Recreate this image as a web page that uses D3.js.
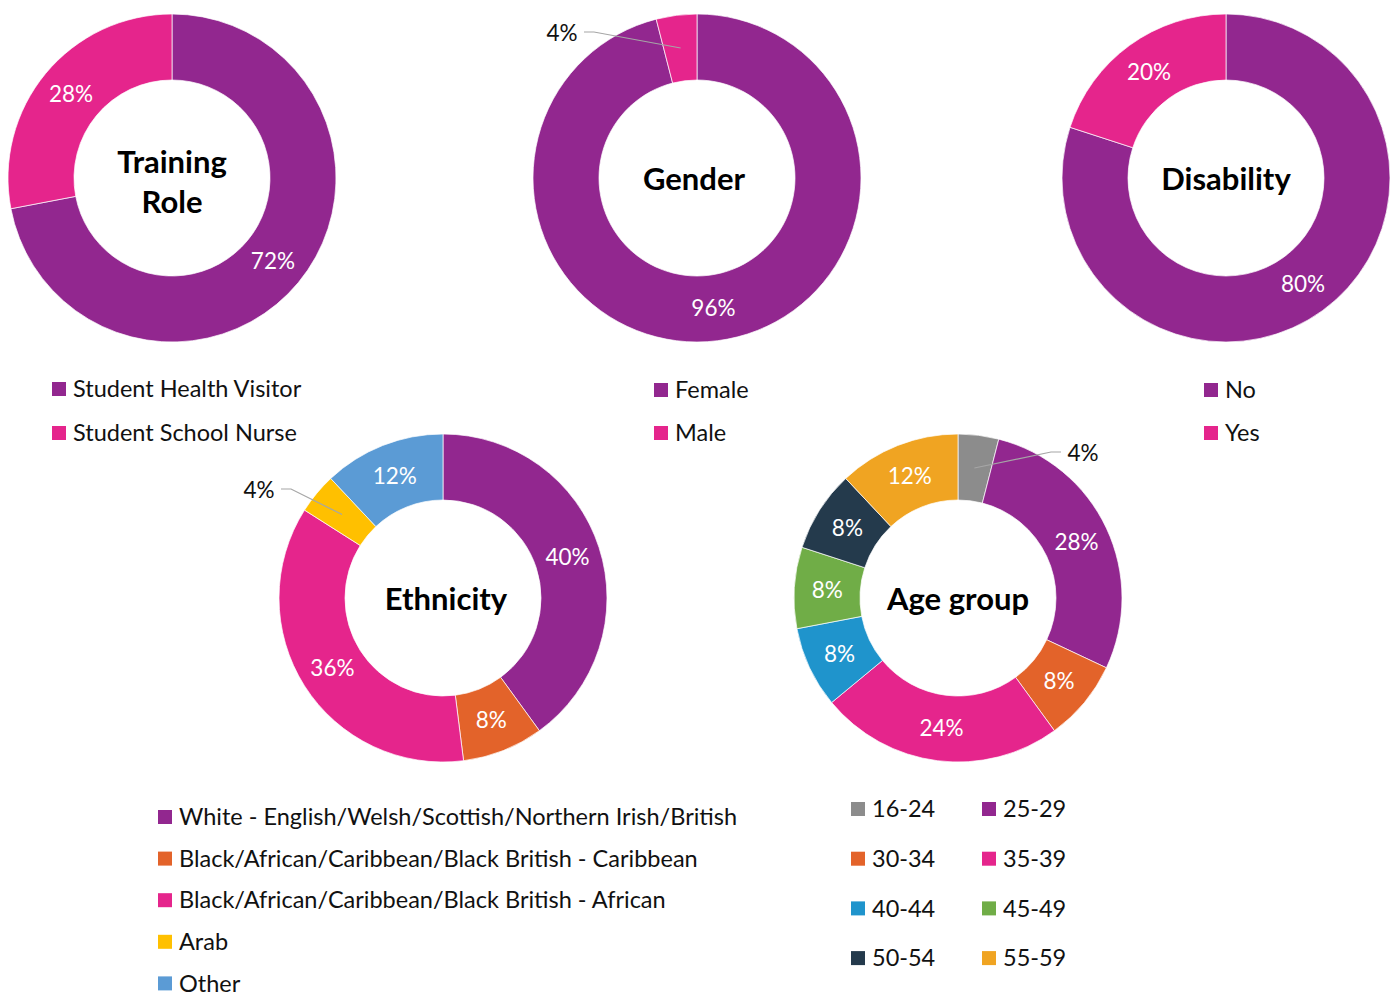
<!DOCTYPE html>
<html>
<head>
<meta charset="utf-8">
<script src="https://cdn.jsdelivr.net/npm/d3@7"></script>
<style>
  body { margin: 0; background: #fff; }
  text { font-family: Lato, "Open Sans", sans-serif; }
</style>
</head>
<body>
<div id="chart"></div>
<script>
// colours
const purple = "#92278f", pink = "#e5258c", orange = "#e3632a", yellow = "#ffc000",
    skyBlue = "#5b9bd5", grey = "#8c8c8c", blue = "#1f94cc", green = "#70ad47",
    navy = "#243a4c", amber = "#f0a422"

// data
const roleLabels = ["Student Health Visitor", "Student School Nurse"]
const roleValues = [72, 28]
const genderLabels = ["Female", "Male"]
const genderValues = [96, 4]
const disabilityLabels = ["No", "Yes"]
const disabilityValues = [80, 20]
const ethnicityLabels = ["White - English/Welsh/Scottish/Northern Irish/British",
    "Black/African/Caribbean/Black British - Caribbean",
    "Black/African/Caribbean/Black British - African", "Arab", "Other"]
const ethnicityValues = [40, 8, 36, 4, 12]
const ageLabels = ["16-24", "25-29", "30-34", "35-39", "40-44", "45-49", "50-54", "55-59"]
const ageValues = [4, 28, 8, 24, 8, 8, 8, 12]

const svg = d3.select("#chart").append("svg")
    .attr("width", 1395)
    .attr("height", 997)

const outerR = 164, innerR = 98
const labelSize = 22.5, legendSize = 23.5, titleSize = 31

// one donut with its title and labels
function donut(opts) {
    const data = opts.labels.map((l, i) => ({ label: l, value: opts.values[i], color: opts.colors[i], small: opts.outside && opts.outside[i] }))
    const pie = d3.pie().sort(null).value(d => d.value)
    const arc = d3.arc().innerRadius(innerR).outerRadius(outerR)
    const g = svg.append("g").attr("transform", `translate(${opts.cx},${opts.cy})`)
    const arcs = pie(data)

    g.selectAll("path.slice").data(arcs).enter().append("path")
        .attr("class", "slice")
        .attr("d", arc)
        .attr("fill", d => d.data.color)
        .attr("stroke", "#fff")
        .attr("stroke-width", 0.7)

    arcs.forEach(a => {
        const c = arc.centroid(a)
        if (a.data.small) {
            const o = a.data.small // label position relative to centre
            const lx = o[0], ly = o[1]
            const dir = lx < c[0] ? 1 : -1
            g.append("polyline")
                .attr("points", [[c[0], c[1]], [lx + dir * 32, ly - 1], [lx + dir * 22, ly - 1]].map(p => p.join(",")).join(" "))
                .attr("fill", "none")
                .attr("stroke", "#a6a6a6")
                .attr("stroke-width", 1.2)
            g.append("text")
                .attr("x", lx).attr("y", ly)
                .attr("text-anchor", "middle")
                .attr("dy", "0.35em")
                .attr("font-size", labelSize)
                .attr("fill", "#111")
                .text(a.data.value + "%")
        } else {
            g.append("text")
                .attr("x", c[0]).attr("y", c[1])
                .attr("text-anchor", "middle")
                .attr("dy", "0.35em")
                .attr("font-size", labelSize)
                .attr("fill", "#fff")
                .text(a.data.value + "%")
        }
    })

    const title = g.append("text")
        .attr("text-anchor", "middle")
        .attr("font-size", titleSize)
        .attr("font-weight", "bold")
        .attr("fill", "#000")
    opts.title.forEach((t, i) => {
        title.append("tspan")
            .attr("x", opts.titleDx || 0)
            .attr("y", (i - (opts.title.length - 1) / 2) * 40 + (opts.titleDy || 1))
            .attr("dy", "0.35em")
            .text(t)
    })
}

// legend helper
function legend(items, colors, x0, y0, rowStep, cols, colStep) {
    items.forEach((t, i) => {
        const col = i % cols, row = Math.floor(i / cols)
        const x = x0 + col * colStep, y = y0 + row * rowStep
        svg.append("rect")
            .attr("x", x).attr("y", y - 7)
            .attr("width", 14).attr("height", 14)
            .attr("fill", colors[i])
        svg.append("text")
            .attr("x", x + 21).attr("y", y)
            .attr("dy", "0.35em")
            .attr("font-size", legendSize)
            .attr("fill", "#111")
            .text(t)
    })
}

donut({ cx: 172, cy: 178, labels: roleLabels, values: roleValues, colors: [purple, pink], title: ["Training", "Role"], titleDy: 4 })
donut({ cx: 697, cy: 178, labels: genderLabels, values: genderValues, colors: [purple, pink], title: ["Gender"], titleDx: -3,
    outside: [null, [-135, -145]] })
donut({ cx: 1226, cy: 178, labels: disabilityLabels, values: disabilityValues, colors: [purple, pink], title: ["Disability"] })
donut({ cx: 443, cy: 598, labels: ethnicityLabels, values: ethnicityValues, colors: [purple, orange, pink, yellow, skyBlue], title: ["Ethnicity"], titleDx: 3,
    outside: [null, null, null, [-184, -108], null] })
donut({ cx: 958, cy: 598, labels: ageLabels, values: ageValues, colors: [grey, purple, orange, pink, blue, green, navy, amber], title: ["Age group"],
    outside: [[125, -145], null, null, null, null, null, null, null] })

legend(roleLabels, [purple, pink], 52, 389, 44, 1, 0)
legend(genderLabels, [purple, pink], 654, 390, 43, 1, 0)
legend(disabilityLabels, [purple, pink], 1204, 390, 43, 1, 0)
legend(ethnicityLabels, [purple, orange, pink, yellow, skyBlue], 158, 817, 41.6, 1, 0)
legend(ageLabels, [grey, purple, orange, pink, blue, green, navy, amber], 851, 809, 49.7, 2, 131)
</script>
</body>
</html>
